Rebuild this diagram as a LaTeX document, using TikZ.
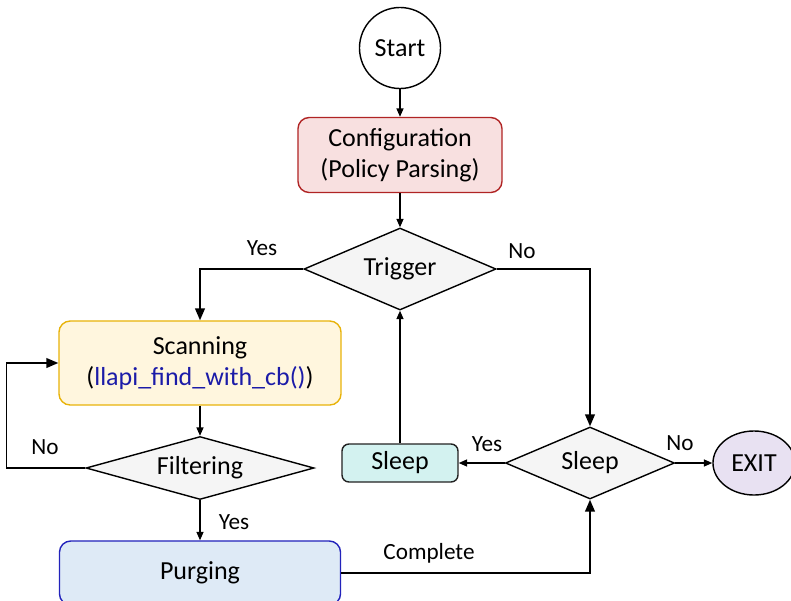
\documentclass[tikz,border=0pt]{standalone}
\usepackage{fontspec}
\setmainfont{Carlito}
\usetikzlibrary{shapes.geometric,arrows.meta,positioning}

\definecolor{confFill}{HTML}{F8E0E0}
\definecolor{confLine}{HTML}{B02424}
\definecolor{scanFill}{HTML}{FFF6DE}
\definecolor{scanLine}{HTML}{E8B30A}
\definecolor{purgeFill}{HTML}{DEEAF6}
\definecolor{purgeLine}{HTML}{2222BB}
\definecolor{sleepFill}{HTML}{D3F2F0}
\definecolor{sleepLine}{HTML}{222222}
\definecolor{decFill}{HTML}{F5F5F5}
\definecolor{exitFill}{HTML}{E8E1F2}
\definecolor{apiBlue}{HTML}{1B1BA8}

\begin{document}
\begin{tikzpicture}[
    x=0.025cm, y=-0.025cm,
    every node/.style={font=\fontsize{18.5}{22}\selectfont, align=center},
    stepbox/.style={draw, line width=1pt, rounded corners=8pt},
    decision/.style={diamond, draw, line width=1pt, fill=decFill, inner sep=0pt, aspect=2.4},
    tag/.style={font=\fontsize{16.5}{19}\selectfont},
    link/.style={line width=1pt, -{Triangle[length=6pt,width=5pt]}},
    biglink/.style={line width=1pt, -{Triangle[length=8.5pt,width=7pt]}}
  ]
  \useasboundingbox (0,0) rectangle (791,600);

  % Nodes
  \node[circle, draw, line width=1pt, minimum size=2.025cm, inner sep=0pt] (start) at (400,48) {Start};
  \node[stepbox, draw=confLine, fill=confFill, minimum width=5.1cm, minimum height=1.875cm] (config) at (400,155) {Configuration\\(Policy Parsing)};
  \node[decision, minimum width=4.8cm, minimum height=2.05cm] (trigger) at (400,269) {Trigger};
  \node[stepbox, draw=scanLine, fill=scanFill, minimum width=7.05cm, minimum height=2.1cm] (scan) at (200,363) {Scanning\\(\textcolor{apiBlue}{llapi\_find\_with\_cb()})};
  \node[decision, aspect=3.6, minimum width=5.7cm, minimum height=1.575cm] (filter) at (200,468) {Filtering};
  \node[stepbox, draw=purgeLine, fill=purgeFill, minimum width=7.025cm, minimum height=1.6cm] (purge) at (200,573) {Purging};
  \node[stepbox, draw=sleepLine, fill=sleepFill, rounded corners=5pt, minimum width=2.9cm, minimum height=0.95cm] (sleepbox) at (400,463) {Sleep};
  \node[decision, minimum width=4.225cm, minimum height=1.8cm] (sleep) at (590,463) {Sleep};
  \node[ellipse, draw, line width=1pt, fill=exitFill, minimum width=2.05cm, minimum height=1.6cm, inner sep=0pt] (exit) at (754,463) {EXIT};

  % Labels
  \node[tag] (trigyes) at (262,248) {Yes};
  \node[tag] (trigno) at (522,251) {No};
  \node[tag] (filtno) at (45,447) {No};
  \node[tag] (filtyes) at (234,522) {Yes};
  \node[tag] (done) at (429,553) {Complete};
  \node[tag] (sleepyes) at (487,444) {Yes};
  \node[tag] (sleepno) at (680,443) {No};

  % Edges
  \draw[link] (start) -- (config);
  \draw[link] (config) -- (trigger);
  \draw[biglink] (trigger.west) -| (scan.north);
  \draw[biglink] (trigger.east) -| (sleep.north);
  \draw[link] (scan) -- (filter);
  \draw[link] (filter) -- (purge);
  \draw[biglink] (filter.west) -- ++(-79,0) |- (scan.west);
  \draw[biglink] (purge.east) -| (sleep.south);
  \draw[link] (sleep.west) -- (sleepbox.east);
  \draw[link] (sleepbox) -- (trigger);
  \draw[link] (sleep.east) -- (exit.west);

\end{tikzpicture}
\end{document}
